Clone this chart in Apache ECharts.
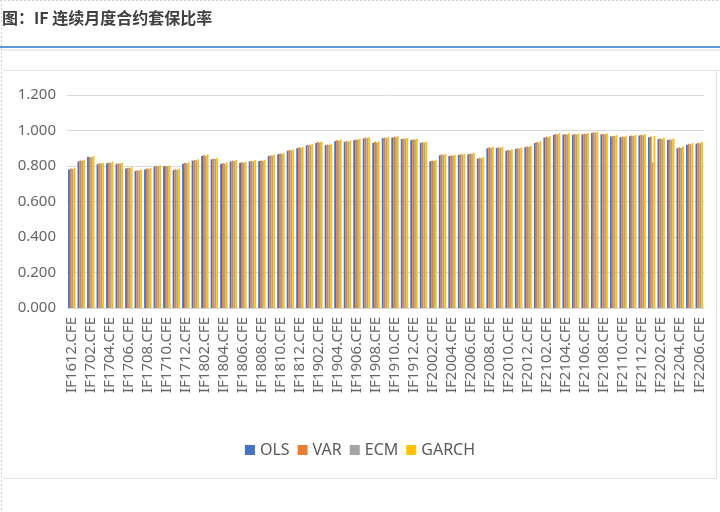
<!DOCTYPE html>
<html>
<head>
<meta charset="utf-8">
<script src="https://cdn.jsdelivr.net/npm/echarts@6/dist/echarts.min.js"></script>
<style>
html,body{margin:0;padding:0;background:#fff;}
#chart{width:720px;height:512px;}
</style>
</head>
<body>
<div id="chart"></div>
<script>
const titleText = '图：IF 连续月度合约套保比率';
const seriesNames = ['OLS', 'VAR', 'ECM', 'GARCH'];
const seriesColors = ['#4472C4', '#ED7D31', '#A5A5A5', '#FFC000'];
const yTicks = [0, 0.2, 0.4, 0.6, 0.8, 1.0, 1.2];

const categories = [
  'IF1612.CFE',
  'IF1701.CFE','IF1702.CFE','IF1703.CFE','IF1704.CFE','IF1705.CFE','IF1706.CFE',
  'IF1707.CFE','IF1708.CFE','IF1709.CFE','IF1710.CFE','IF1711.CFE','IF1712.CFE',
  'IF1801.CFE','IF1802.CFE','IF1803.CFE','IF1804.CFE','IF1805.CFE','IF1806.CFE',
  'IF1807.CFE','IF1808.CFE','IF1809.CFE','IF1810.CFE','IF1811.CFE','IF1812.CFE',
  'IF1901.CFE','IF1902.CFE','IF1903.CFE','IF1904.CFE','IF1905.CFE','IF1906.CFE',
  'IF1907.CFE','IF1908.CFE','IF1909.CFE','IF1910.CFE','IF1911.CFE','IF1912.CFE',
  'IF2001.CFE','IF2002.CFE','IF2003.CFE','IF2004.CFE','IF2005.CFE','IF2006.CFE',
  'IF2007.CFE','IF2008.CFE','IF2009.CFE','IF2010.CFE','IF2011.CFE','IF2012.CFE',
  'IF2101.CFE','IF2102.CFE','IF2103.CFE','IF2104.CFE','IF2105.CFE','IF2106.CFE',
  'IF2107.CFE','IF2108.CFE','IF2109.CFE','IF2110.CFE','IF2111.CFE','IF2112.CFE',
  'IF2201.CFE','IF2202.CFE','IF2203.CFE','IF2204.CFE','IF2205.CFE','IF2206.CFE'
];

const ols = [0.780,
  0.826,0.852,0.810,0.815,0.812,0.786,0.772,0.780,0.797,0.798,0.777,0.812,
  0.830,0.857,0.838,0.812,0.826,0.818,0.826,0.828,0.856,0.866,0.886,0.900,
  0.916,0.930,0.918,0.940,0.936,0.946,0.955,0.930,0.957,0.960,0.952,0.946,
  0.930,0.826,0.860,0.856,0.862,0.866,0.842,0.900,0.902,0.886,0.896,0.906,
  0.930,0.960,0.976,0.977,0.976,0.978,0.986,0.978,0.966,0.962,0.968,0.972,
  0.962,0.952,0.946,0.900,0.920,0.926];
const varS = [0.786,
  0.831,0.850,0.816,0.820,0.815,0.790,0.776,0.786,0.801,0.800,0.781,0.818,
  0.834,0.860,0.841,0.815,0.830,0.821,0.829,0.831,0.860,0.870,0.890,0.905,
  0.920,0.935,0.921,0.945,0.940,0.950,0.960,0.936,0.960,0.965,0.955,0.950,
  0.934,0.830,0.865,0.860,0.866,0.870,0.845,0.905,0.905,0.890,0.900,0.910,
  0.935,0.965,0.980,0.980,0.980,0.982,0.990,0.981,0.970,0.966,0.972,0.976,
  0.966,0.955,0.950,0.905,0.925,0.930];
const ecm = [0.783,
  0.829,0.849,0.813,0.818,0.813,0.788,0.774,0.784,0.799,0.799,0.779,0.815,
  0.832,0.858,0.839,0.813,0.828,0.819,0.827,0.829,0.858,0.868,0.888,0.902,
  0.918,0.932,0.919,0.942,0.938,0.948,0.957,0.933,0.958,0.962,0.953,0.948,
  0.932,0.828,0.862,0.858,0.864,0.868,0.843,0.902,0.903,0.888,0.898,0.908,
  0.932,0.962,0.978,0.978,0.978,0.980,0.988,0.979,0.968,0.963,0.969,0.973,
  0.820,0.953,0.948,0.902,0.922,0.928];
const garch = [0.790,
  0.834,0.856,0.818,0.824,0.818,0.794,0.780,0.790,0.804,0.803,0.784,0.822,
  0.838,0.864,0.845,0.820,0.834,0.825,0.833,0.835,0.864,0.874,0.894,0.908,
  0.924,0.938,0.925,0.950,0.944,0.954,0.963,0.940,0.964,0.968,0.958,0.953,
  0.938,0.834,0.868,0.864,0.870,0.874,0.850,0.908,0.908,0.894,0.904,0.914,
  0.940,0.968,0.984,0.984,0.983,0.986,0.992,0.985,0.974,0.970,0.976,0.979,
  0.970,0.960,0.955,0.910,0.930,0.936];

const seriesData = [ols, varS, ecm, garch];

const chart = echarts.init(document.getElementById('chart'), null, {renderer: 'canvas'});
const font = 'Noto Sans, Liberation Sans, sans-serif';

chart.setOption({
  backgroundColor: '#ffffff',
  animation: false,
  color: seriesColors,
  textStyle: {fontFamily: font},
  graphic: [
    {type: 'text', left: 2, top: 10, style: {text: titleText, font: 'bold 16px "Noto Sans CJK SC", sans-serif', fill: '#404040'}},
    {type: 'line', shape: {x1: 0, y1: 47, x2: 720, y2: 47}, style: {stroke: '#5B9BD5', lineWidth: 2}},
    {type: 'line', shape: {x1: 0, y1: 50, x2: 720, y2: 50}, style: {stroke: '#D6DCE4', lineWidth: 1}},
    {type: 'line', shape: {x1: 3, y1: 70.5, x2: 720, y2: 70.5}, style: {stroke: '#E3E3E3', lineWidth: 1}},
    {type: 'line', shape: {x1: 3, y1: 478.5, x2: 717, y2: 478.5}, style: {stroke: '#E3E3E3', lineWidth: 1}},
    {type: 'line', shape: {x1: 716.5, y1: 70, x2: 716.5, y2: 478}, style: {stroke: '#E3E3E3', lineWidth: 1}},
    {type: 'line', shape: {x1: 1.5, y1: 0, x2: 1.5, y2: 512}, style: {stroke: '#CFCFCF', lineWidth: 1, lineDash: [2, 2]}},
    {type: 'line', shape: {x1: 0, y1: 0.5, x2: 720, y2: 0.5}, style: {stroke: '#CFCFCF', lineWidth: 1, lineDash: [2, 2]}}
  ],
  legend: {
    top: 437,
    left: 'center',
    icon: 'rect',
    itemWidth: 10,
    itemHeight: 10,
    itemGap: 8,
    textStyle: {fontSize: 16, color: '#595959', fontFamily: font},
    data: seriesNames
  },
  grid: {left: 67, right: 16, top: 95, bottom: 204, containLabel: false},
  xAxis: {
    type: 'category',
    data: categories,
    boundaryGap: true,
    axisLine: {lineStyle: {color: '#D9D9D9'}},
    axisTick: {show: false},
    axisLabel: {rotate: 90, interval: 1, fontSize: 15, color: '#666666', margin: 9, fontFamily: font}
  },
  yAxis: {
    type: 'value',
    min: yTicks[0],
    max: yTicks[yTicks.length - 1],
    interval: 0.2,
    axisLine: {show: false},
    axisTick: {show: false},
    splitLine: {lineStyle: {color: '#D9D9D9'}},
    axisLabel: {formatter: v => v.toFixed(3), fontSize: 15, color: '#666666', margin: 11, fontFamily: font}
  },
  series: seriesNames.map((n, i) => ({
    name: n,
    type: 'bar',
    data: seriesData[i],
    barGap: '0%',
    barCategoryGap: '22%',
    itemStyle: {color: seriesColors[i]}
  }))
});
</script>
</body>
</html>
